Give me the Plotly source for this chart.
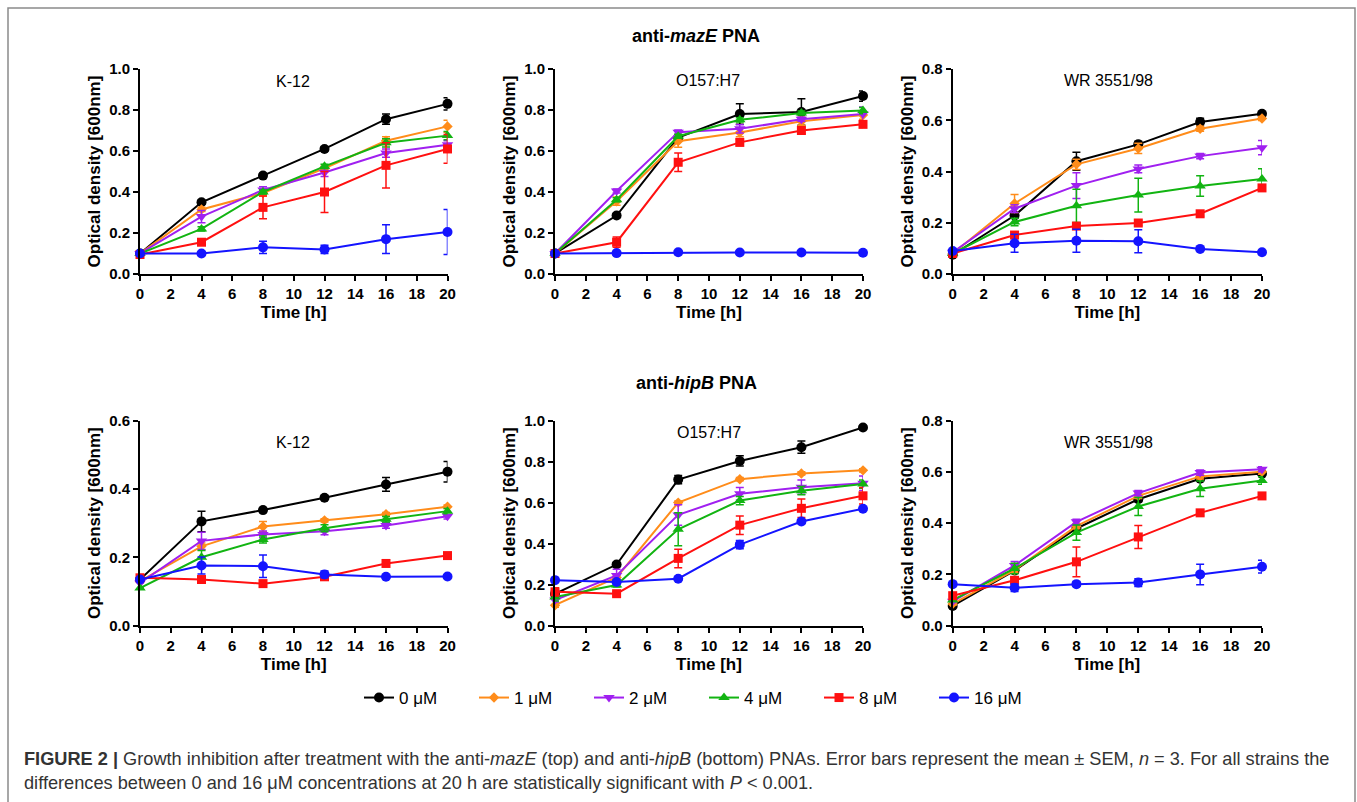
import plotly.graph_objects as go

W, H = 1357, 802

time_h = [0, 4, 8, 12, 16, 20]
conc_labels = ["0 μM", "1 μM", "2 μM", "4 μM", "8 μM", "16 μM"]
x_ticks = [0, 2, 4, 6, 8, 10, 12, 14, 16, 18, 20]

# anti-mazE PNA, K-12 (rows: 0,1,2,4,8,16 µM)
mazE_K12 = [
    [0.10, 0.35, 0.48, 0.61, 0.755, 0.83],
    [0.10, 0.315, 0.395, 0.515, 0.65, 0.72],
    [0.10, 0.28, 0.41, 0.495, 0.59, 0.63],
    [0.10, 0.22, 0.40, 0.525, 0.64, 0.675],
    [0.095, 0.155, 0.325, 0.40, 0.53, 0.61],
    [0.10, 0.10, 0.13, 0.12, 0.17, 0.205],
]
mazE_K12_err = [
    [0, 0.01, 0.01, 0.01, 0.025, 0.03],
    [0, 0.01, 0.015, 0.01, 0.02, 0.03],
    [0, 0.03, 0.015, 0.02, 0.02, 0.02],
    [0, 0.01, 0.01, 0.01, 0.02, 0.02],
    [0, 0.015, 0.055, 0.10, 0.11, 0.07],
    [0, 0.005, 0.03, 0.02, 0.07, 0.11],
]
# anti-mazE PNA, O157:H7
mazE_O157 = [
    [0.10, 0.285, 0.665, 0.78, 0.79, 0.868],
    [0.10, 0.355, 0.648, 0.69, 0.745, 0.775],
    [0.10, 0.405, 0.692, 0.708, 0.755, 0.78],
    [0.10, 0.362, 0.672, 0.752, 0.785, 0.797],
    [0.10, 0.155, 0.545, 0.642, 0.70, 0.73],
    [0.10, 0.102, 0.106, 0.105, 0.105, 0.104],
]
mazE_O157_err = [
    [0, 0.01, 0.01, 0.05, 0.065, 0.025],
    [0, 0.02, 0.03, 0.02, 0.02, 0.02],
    [0, 0.01, 0.01, 0.02, 0.01, 0.035],
    [0, 0.01, 0.01, 0.01, 0.01, 0.015],
    [0, 0.025, 0.045, 0.015, 0.015, 0.015],
    [0, 0.005, 0.005, 0.005, 0.005, 0.005],
]
# anti-mazE PNA, WR 3551/98
mazE_WR = [
    [0.075, 0.228, 0.44, 0.506, 0.593, 0.625],
    [0.08, 0.275, 0.428, 0.49, 0.567, 0.607],
    [0.085, 0.255, 0.345, 0.41, 0.46, 0.493],
    [0.08, 0.203, 0.266, 0.308, 0.343, 0.371],
    [0.08, 0.152, 0.187, 0.199, 0.235, 0.336],
    [0.09, 0.12, 0.13, 0.128, 0.098, 0.085],
]
mazE_WR_err = [
    [0, 0.01, 0.035, 0.012, 0.015, 0.008],
    [0, 0.035, 0.02, 0.02, 0.01, 0.008],
    [0, 0.015, 0.05, 0.015, 0.01, 0.028],
    [0, 0.015, 0.065, 0.066, 0.04, 0.04],
    [0, 0.01, 0.01, 0.01, 0.01, 0.01],
    [0, 0.035, 0.045, 0.045, 0.005, 0.005],
]
# anti-hipB PNA, K-12
hipB_K12 = [
    [0.135, 0.305, 0.338, 0.374, 0.413, 0.45],
    [0.13, 0.232, 0.29, 0.308, 0.326, 0.348],
    [0.125, 0.248, 0.267, 0.276, 0.293, 0.32],
    [0.11, 0.20, 0.252, 0.285, 0.311, 0.335],
    [0.14, 0.135, 0.123, 0.143, 0.182, 0.205],
    [0.135, 0.176, 0.174, 0.15, 0.143, 0.144],
]
hipB_K12_err = [
    [0.005, 0.03, 0.005, 0.005, 0.02, 0.03],
    [0, 0.01, 0.015, 0.005, 0.005, 0.005],
    [0, 0.025, 0.01, 0.01, 0.008, 0.008],
    [0, 0.02, 0.01, 0.01, 0.008, 0.008],
    [0.01, 0.005, 0.005, 0.005, 0.005, 0.005],
    [0.005, 0.025, 0.033, 0.01, 0.005, 0.005],
]
# anti-hipB PNA, O157:H7
hipB_O157 = [
    [0.155, 0.298, 0.712, 0.803, 0.87, 0.966],
    [0.10, 0.235, 0.60, 0.714, 0.742, 0.757],
    [0.125, 0.245, 0.54, 0.643, 0.675, 0.694],
    [0.14, 0.198, 0.47, 0.61, 0.658, 0.69],
    [0.165, 0.156, 0.328, 0.49, 0.572, 0.633],
    [0.222, 0.213, 0.229, 0.395, 0.508, 0.57],
]
hipB_O157_err = [
    [0.01, 0.01, 0.02, 0.025, 0.03, 0.008],
    [0.01, 0.01, 0.008, 0.008, 0.008, 0.008],
    [0.01, 0.03, 0.05, 0.03, 0.035, 0.035],
    [0.02, 0.01, 0.08, 0.02, 0.02, 0.02],
    [0.02, 0.01, 0.045, 0.045, 0.045, 0.04],
    [0.005, 0.01, 0.008, 0.02, 0.01, 0.01],
]
# anti-hipB PNA, WR 3551/98
hipB_WR = [
    [0.077, 0.215, 0.379, 0.493, 0.573, 0.593],
    [0.085, 0.217, 0.388, 0.506, 0.582, 0.60],
    [0.095, 0.235, 0.405, 0.517, 0.597, 0.61],
    [0.10, 0.223, 0.363, 0.465, 0.534, 0.566],
    [0.117, 0.177, 0.249, 0.346, 0.44, 0.506],
    [0.162, 0.148, 0.162, 0.168, 0.20, 0.23],
]
hipB_WR_err = [
    [0.005, 0.01, 0.01, 0.01, 0.01, 0.01],
    [0.005, 0.01, 0.01, 0.01, 0.01, 0.01],
    [0.005, 0.015, 0.01, 0.01, 0.01, 0.01],
    [0.005, 0.02, 0.03, 0.035, 0.03, 0.015],
    [0.005, 0.01, 0.058, 0.045, 0.01, 0.01],
    [0.005, 0.015, 0.008, 0.015, 0.04, 0.025],
]

strain_titles = ["K-12", "O157:H7", "WR 3551/98", "K-12", "O157:H7", "WR 3551/98"]
y_max = [1.0, 1.0, 0.8, 0.6, 1.0, 0.8]

colors = ["#000000", "#FF8C1A", "#A020F0", "#12B412", "#FF1010", "#1414FF"]
symbols = ["circle", "diamond", "triangle-down", "triangle-up", "square", "circle"]
msizes = [10, 8, 10, 10, 9, 10]

panels = [
    (mazE_K12, mazE_K12_err), (mazE_O157, mazE_O157_err), (mazE_WR, mazE_WR_err),
    (hipB_K12, hipB_K12_err), (hipB_O157, hipB_O157_err), (hipB_WR, hipB_WR_err),
]

# layout in pixels
col_x = [(140, 447.5), (555, 863), (952.7, 1262)]
row_y = [(69, 274), (420.5, 625.7)]
title_pos = [(293, 82), (708, 80), (1108, 80), (293, 442), (709, 433), (1108, 442)]

FONT = "Liberation Sans, Arial, sans-serif"

fig = go.Figure()
layout = {}
for p, (vals, errs) in enumerate(panels):
    r, c = divmod(p, 3)
    idx = p + 1
    xa = "x" if idx == 1 else f"x{idx}"
    ya = "y" if idx == 1 else f"y{idx}"
    for s in range(6):
        fig.add_trace(go.Scatter(
            x=time_h, y=vals[s], xaxis=xa, yaxis=ya,
            mode="lines+markers", name=conc_labels[s],
            legendgroup=conc_labels[s], showlegend=(p == 0),
            line=dict(color=colors[s], width=2),
            marker=dict(symbol=symbols[s], size=msizes[s], color=colors[s],
                        line=dict(width=0)),
            error_y=dict(type="data", array=errs[s], symmetric=True,
                         color=colors[s], thickness=1.5, width=4),
            cliponaxis=False,
        ))
    x0, x1 = col_x[c]
    yt, yb = row_y[r]
    layout[f"xaxis{'' if idx == 1 else idx}"] = dict(
        domain=[x0 / W, x1 / W], anchor=ya, range=[0, 20], automargin=False,
        tickmode="array", tickvals=x_ticks,
        showline=True, linewidth=2, linecolor="black",
        ticks="outside", ticklen=5, tickwidth=2, tickcolor="black",
        showgrid=False, zeroline=False,
        tickfont=dict(family=FONT, size=15, color="black", weight="bold"),
        title=dict(text="Time [h]", standoff=5,
                   font=dict(family=FONT, size=17, color="black", weight="bold")),
    )
    layout[f"yaxis{'' if idx == 1 else idx}"] = dict(
        domain=[1 - yb / H, 1 - yt / H], anchor=xa, range=[0, y_max[p]], automargin=False,
        dtick=0.2, tickformat=".1f",
        showline=True, linewidth=2, linecolor="black",
        ticks="outside", ticklen=5, tickwidth=2, tickcolor="black",
        showgrid=False, zeroline=False,
        tickfont=dict(family=FONT, size=15, color="black", weight="bold"),
        title=dict(text="Optical density [600nm]", standoff=4,
                   font=dict(family=FONT, size=17, color="black", weight="bold")),
    )

annotations = []
for p, t in enumerate(strain_titles):
    px, py = title_pos[p]
    annotations.append(dict(text=t, x=px / W, y=1 - py / H, xref="paper", yref="paper",
                            showarrow=False, xanchor="center", yanchor="middle",
                            font=dict(family=FONT, size=16, color="black")))
annotations.append(dict(text="<b>anti-<i>mazE</i> PNA</b>", x=696 / W, y=1 - 36 / H,
                        xref="paper", yref="paper", showarrow=False,
                        xanchor="center", yanchor="middle",
                        font=dict(family=FONT, size=18, color="black")))
annotations.append(dict(text="<b>anti-<i>hipB</i> PNA</b>", x=696 / W, y=1 - 383 / H,
                        xref="paper", yref="paper", showarrow=False,
                        xanchor="center", yanchor="middle",
                        font=dict(family=FONT, size=18, color="black")))
annotations.append(dict(
    text=("<b>FIGURE 2 |</b> Growth inhibition after treatment with the anti-<i>mazE</i> (top) "
          "and anti-<i>hipB</i> (bottom) PNAs. Error bars represent the mean ± SEM, <i>n</i> = 3. "
          "For all strains the<br>differences between 0 and 16 μM concentrations at 20 h are "
          "statistically significant with <i>P</i> &lt; 0.001."),
    x=22 / W, y=1 - 747 / H, xref="paper", yref="paper", showarrow=False,
    xanchor="left", yanchor="top", align="left",
    font=dict(family=FONT, size=18.2, color="#333333")))

fig.update_layout(
    width=W, height=H, margin=dict(l=0, r=0, t=0, b=0, pad=0, autoexpand=False),
    paper_bgcolor="white", plot_bgcolor="white",
    annotations=annotations,
    legend=dict(orientation="h", x=704 / W, y=1 - 698 / H, xanchor="center",
                yanchor="middle", entrywidth=70, itemwidth=30,
                font=dict(family=FONT, size=17, color="black"),
                bgcolor="rgba(0,0,0,0)"),
    shapes=[dict(type="rect", xref="paper", yref="paper",
                 x0=8 / W, x1=1355 / W, y0=-0.05, y1=1 - 8 / H,
                 line=dict(color="#8a8a8a", width=1.5))],
    **layout,
)

fig.write_html("out.html", config={"displayModeBar": False},
               post_script="document.body.style.margin='0';document.body.style.overflow='hidden';")
